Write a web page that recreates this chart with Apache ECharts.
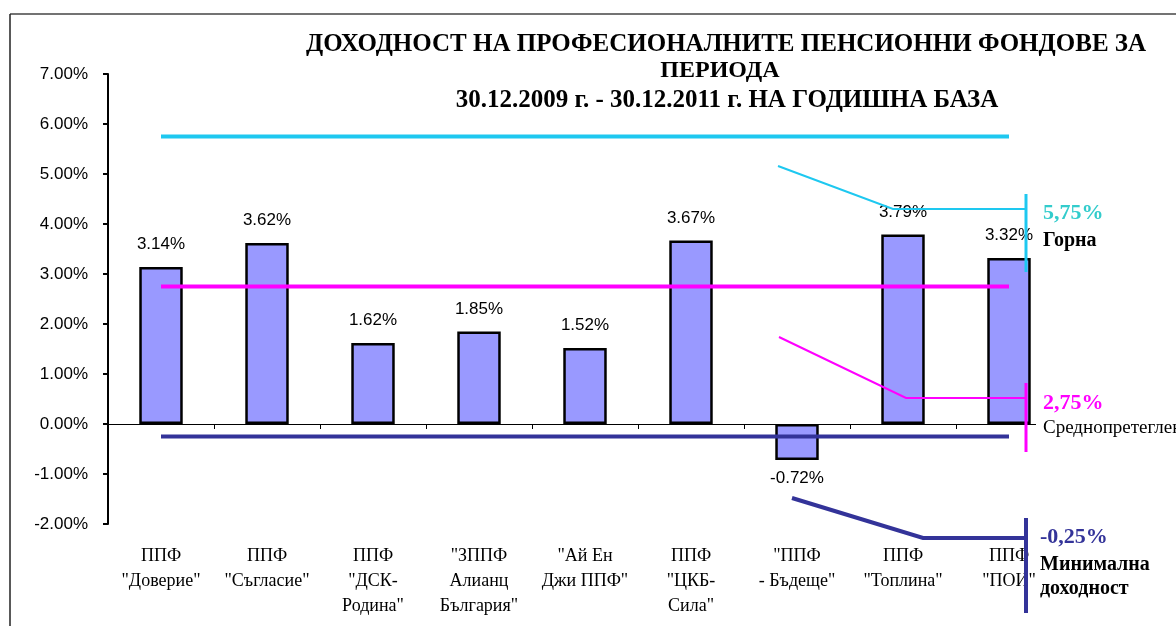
<!DOCTYPE html>
<html>
<head>
<meta charset="utf-8">
<script src="https://cdn.jsdelivr.net/npm/echarts@6/dist/echarts.min.js"></script>
<style>
html,body{margin:0;padding:0;background:#fff;}
#chart{width:1176px;height:626px;}
</style>
</head>
<body>
<div id="chart"></div>
<script>
// ---- data ----
const categories = [
  'ППФ\n"Доверие"',
  'ППФ\n"Съгласие"',
  'ППФ\n"ДСК-\nРодина"',
  '"ЗППФ\nАлианц\nБългария"',
  '"Ай Ен\nДжи ППФ"',
  'ППФ\n"ЦКБ-\nСила"',
  '"ППФ\n- Бъдеще"',
  'ППФ\n"Топлина"',
  'ППФ\n"ПОИ"'
];
const returns = [3.14, 3.62, 1.62, 1.85, 1.52, 3.67, -0.72, 3.79, 3.32];
const upperLimit = [5.75, 5.75, 5.75, 5.75, 5.75, 5.75, 5.75, 5.75, 5.75];
const weightedAverage = [2.75, 2.75, 2.75, 2.75, 2.75, 2.75, 2.75, 2.75, 2.75];
const minimumReturn = [-0.25, -0.25, -0.25, -0.25, -0.25, -0.25, -0.25, -0.25, -0.25];
const yTicks = { min: -2, max: 7, interval: 1 };
const titleLines = [
  'ДОХОДНОСТ НА ПРОФЕСИОНАЛНИТЕ ПЕНСИОННИ ФОНДОВЕ ЗА',
  'ПЕРИОДА',
  '30.12.2009 г. - 30.12.2011 г. НА ГОДИШНА БАЗА'
];
const annotations = {
  upper: ['5,75%', 'Горна'],
  average: ['2,75%', 'Среднопретеглена доходност'],
  minimum: ['-0,25%', 'Минимална', 'доходност']
};

const SERIF = '"Liberation Serif", "Times New Roman", serif';
const SANS = '"Liberation Sans", Arial, sans-serif';

const chart = echarts.init(document.getElementById('chart'));

const barData = returns.map(v => v < 0
  ? { value: v, label: { position: 'bottom', distance: 10 } }
  : v);

const option = {
  backgroundColor: '#fff',
  animation: false,
  grid: { left: 108, top: 74, right: 114, bottom: 102, containLabel: false },
  xAxis: [
    {
      type: 'category', data: categories, position: 'bottom',
      axisLine: { onZero: true, lineStyle: { color: '#000', width: 1 } },
      axisTick: { show: true, length: 5, lineStyle: { color: '#000', width: 1 } },
      axisLabel: { show: false },
      splitLine: { show: false }
    },
    {
      type: 'category', data: categories, position: 'bottom',
      axisLine: { show: false, onZero: false },
      axisTick: { show: false },
      axisLabel: { show: true, interval: 0, margin: 20, color: '#000',
        fontFamily: SERIF, fontSize: 18, lineHeight: 25 },
      splitLine: { show: false }
    }
  ],
  yAxis: {
    type: 'value', min: yTicks.min, max: yTicks.max, interval: yTicks.interval,
    axisLine: { show: true, lineStyle: { color: '#000', width: 2 } },
    axisTick: { show: true, length: 5, lineStyle: { color: '#000', width: 2 } },
    splitLine: { show: false },
    axisLabel: { margin: 20, color: '#000', fontFamily: SANS, fontSize: 17,
      formatter: v => v.toFixed(2) + '%' }
  },
  series: [
    {
      type: 'bar', data: barData, barWidth: '41%',
      itemStyle: { color: '#9999FF', borderColor: '#000', borderWidth: 2.5 },
      label: { show: true, position: 'top', distance: 14, color: '#000',
        fontFamily: SANS, fontSize: 17,
        formatter: p => p.value.toFixed(2) + '%' },
      z: 2
    },
    {
      type: 'line', data: upperLimit, symbol: 'none',
      lineStyle: { color: '#1EC8F0', width: 4 }, z: 3
    },
    {
      type: 'line', data: weightedAverage, symbol: 'none',
      lineStyle: { color: '#FF00FF', width: 4 }, z: 3
    },
    {
      type: 'line', data: minimumReturn, symbol: 'none',
      lineStyle: { color: '#333399', width: 4 }, z: 3
    }
  ],
  graphic: [
    // frame
    { type: 'line', shape: { x1: 10, y1: 14, x2: 1176, y2: 14 }, style: { stroke: '#444', lineWidth: 1.5 } },
    { type: 'line', shape: { x1: 10, y1: 14, x2: 10, y2: 626 }, style: { stroke: '#222', lineWidth: 1.5 } },
    // title
    { type: 'text', x: 726, y: 45, style: { text: titleLines[0], align: 'center', verticalAlign: 'middle',
        font: 'bold 25px ' + SERIF, fill: '#000' } },
    { type: 'text', x: 720, y: 71, style: { text: titleLines[1], align: 'center', verticalAlign: 'middle',
        font: 'bold 24px ' + SERIF, fill: '#000' } },
    { type: 'text', x: 727, y: 101, style: { text: titleLines[2], align: 'center', verticalAlign: 'middle',
        font: 'bold 25px ' + SERIF, fill: '#000' } },
    // upper callout
    { type: 'polyline', shape: { points: [[778, 166], [893, 209], [1026, 209]] }, style: { stroke: '#1EC8F0', lineWidth: 2, fill: null }, z: 10 },
    { type: 'line', shape: { x1: 1026, y1: 194, x2: 1026, y2: 272 }, style: { stroke: '#1EC8F0', lineWidth: 3 }, z: 10 },
    { type: 'text', x: 1043, y: 213, style: { text: annotations.upper[0], verticalAlign: 'middle', font: 'bold 22px ' + SERIF, fill: '#33CCCC' }, z: 10 },
    { type: 'text', x: 1043, y: 241, style: { text: annotations.upper[1], verticalAlign: 'middle', font: 'bold 20px ' + SERIF, fill: '#000' }, z: 10 },
    // average callout
    { type: 'polyline', shape: { points: [[779, 337], [906, 398], [1026, 398]] }, style: { stroke: '#FF00FF', lineWidth: 2, fill: null }, z: 10 },
    { type: 'line', shape: { x1: 1026, y1: 383, x2: 1026, y2: 452 }, style: { stroke: '#FF00FF', lineWidth: 3 }, z: 10 },
    { type: 'rect', shape: { x: 1036, y: 390, width: 140, height: 52 }, style: { fill: '#fff' }, z: 9 },
    { type: 'text', x: 1043, y: 403, style: { text: annotations.average[0], verticalAlign: 'middle', font: 'bold 22px ' + SERIF, fill: '#FF00FF' }, z: 10 },
    { type: 'text', x: 1043, y: 428, style: { text: annotations.average[1], verticalAlign: 'middle', font: '19px ' + SERIF, fill: '#000' }, z: 10 },
    // minimum callout
    { type: 'polyline', shape: { points: [[792, 498], [923, 538], [1026, 538]] }, style: { stroke: '#333399', lineWidth: 4, fill: null }, z: 10 },
    { type: 'line', shape: { x1: 1026, y1: 518, x2: 1026, y2: 613 }, style: { stroke: '#333399', lineWidth: 4 }, z: 10 },
    { type: 'text', x: 1040, y: 537, style: { text: annotations.minimum[0], verticalAlign: 'middle', font: 'bold 22px ' + SERIF, fill: '#333399' }, z: 10 },
    { type: 'text', x: 1040, y: 565, style: { text: annotations.minimum[1], verticalAlign: 'middle', font: 'bold 20px ' + SERIF, fill: '#000' }, z: 10 },
    { type: 'text', x: 1040, y: 589, style: { text: annotations.minimum[2], verticalAlign: 'middle', font: 'bold 20px ' + SERIF, fill: '#000' }, z: 10 }
  ]
};
chart.setOption(option);
</script>
</body>
</html>
